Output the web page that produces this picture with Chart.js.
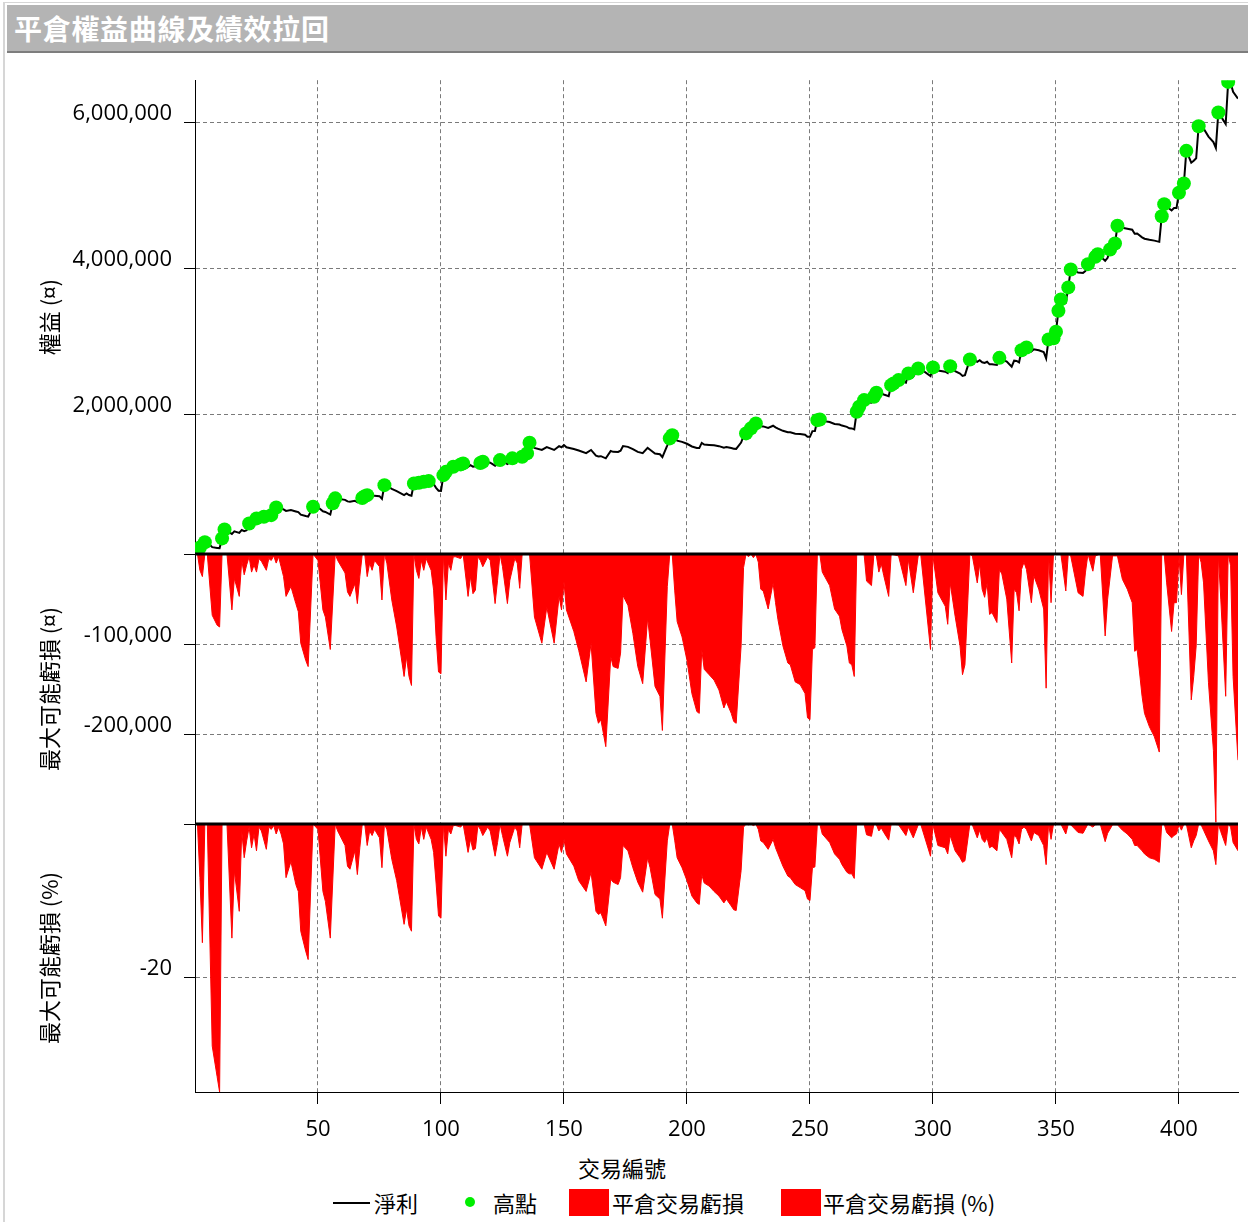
<!DOCTYPE html>
<html>
<head>
<meta charset="utf-8">
<title>平倉權益曲線及績效拉回</title>
<script src="https://cdn.jsdelivr.net/npm/chart.js@4.4.1/dist/chart.umd.min.js"></script>
<style>
  html, body { margin: 0; padding: 0; background: #fff; }
  body { width: 1248px; height: 1222px; position: relative; overflow: hidden;
         font-family: "Noto Sans CJK TC", "Open Sans", sans-serif; color: #000; }
  #frame { position: absolute; left: 3px; top: 2px; right: 0; bottom: 0;
           border-left: 2px solid #d6d6d6; border-top: 1px solid #d6d6d6; }
  #titlebar { position: absolute; left: 7px; top: 5px; width: 1241px; height: 48px;
              box-sizing: border-box; padding-left: 7px; background: #b4b4b4;
              border-bottom: 2px solid #7d7d7d; color: #fff; font-size: 28px;
              font-weight: 700; line-height: 46px; letter-spacing: 0.7px; }
  #chart { position: absolute; left: 0; top: 55px; }
  #xtitle { position: absolute; left: 0; width: 1244px; top: 1152px; text-align: center;
            font-size: 22px; line-height: 30px; }
  .lg { position: absolute; }
  .lgtext { top: 1188px; font-size: 22px; line-height: 28px; white-space: nowrap; }
</style>
</head>
<body>
<div id="frame"></div>
<div id="titlebar">平倉權益曲線及績效拉回</div>
<canvas id="chart" width="1248" height="1095"></canvas>
<div id="xtitle">交易編號</div>
<div class="lg" style="left:333px;top:1202px;width:37px;height:2px;background:#000"></div>
<div class="lg lgtext" style="left:374px">淨利</div>
<div class="lg" style="left:465px;top:1197px;width:10px;height:10px;border-radius:50%;background:#00ee00"></div>
<div class="lg lgtext" style="left:493px">高點</div>
<div class="lg" style="left:569px;top:1189px;width:40px;height:27px;background:#ff0000"></div>
<div class="lg lgtext" style="left:612px">平倉交易虧損</div>
<div class="lg" style="left:781px;top:1189px;width:40px;height:27px;background:#ff0000"></div>
<div class="lg lgtext" style="left:823px">平倉交易虧損 (%)</div>

<script>
// ================= DATA =================
// trade numbers of the equity curve vertices
const eqTrade = [
  1, 2, 3, 4, 5, 7, 9, 10, 11, 12,
  15, 16, 18, 19, 20, 21, 22, 23, 24, 25,
  26, 27, 28, 29, 30, 31, 32, 33, 34, 35,
  36, 37, 39, 41, 42, 43, 45, 46, 48, 50,
  52, 53, 55, 56, 57, 58, 61, 62, 63, 65,
  66, 67, 68, 69, 70, 71, 72, 73, 75, 76,
  77, 78, 80, 82, 85, 86, 87, 88, 89, 90,
  91, 92, 93, 94, 95, 96, 97, 98, 99, 100,
  101, 102, 103, 104, 105, 106, 108, 109, 111, 112,
  113, 114, 115, 116, 117, 119, 120, 122, 123, 124,
  125, 127, 128, 129, 130, 131, 132, 133, 134, 135,
  136, 138, 141, 143, 146, 148, 149, 150, 151, 154,
  156, 159, 161, 163, 164, 165, 167, 169, 170, 172,
  173, 174, 176, 178, 180, 182, 184, 185, 187, 189,
  190, 192, 193, 194, 195, 196, 198, 200, 202, 204,
  205, 206, 207, 209, 211, 213, 215, 216, 218, 219,
  220, 222, 223, 224, 225, 226, 227, 228, 229, 230,
  231, 233, 235, 236, 237, 239, 241, 242, 244, 246,
  248, 249, 250, 251, 252, 253, 254, 255, 258, 260,
  262, 263, 265, 266, 267, 268, 269, 270, 272, 273,
  275, 276, 277, 278, 279, 280, 282, 283, 284, 285,
  286, 289, 290, 292, 294, 295, 299, 300, 302, 305,
  306, 307, 309, 311, 312, 313, 315, 316, 318, 319,
  320, 321, 322, 323, 324, 326, 327, 328, 330, 332,
  333, 334, 335, 336, 337, 338, 340, 341, 343, 345,
  346, 347, 348, 349, 350, 351, 352, 354, 355, 356,
  357, 359, 361, 362, 363, 365, 366, 367, 370, 371,
  372, 374, 375, 377, 379, 381, 382, 383, 385, 386,
  388, 390, 392, 393, 394, 395, 397, 398, 399, 400,
  401, 402, 403, 405, 406, 407, 408, 409, 410, 412,
  414, 415, 416, 417, 419, 420, 421, 422, 424
];
// net equity at those trades
const eqValue = [
  150000, 172000, 147000, 245000, 245000, 177000, 166000, 164000, 297000, 420000,
  358000, 393000, 373000, 413000, 397000, 408000, 502000, 482000, 490000, 571000,
  566000, 563000, 594000, 576000, 589000, 616000, 610000, 721000, 718000, 707000,
  696000, 674000, 685000, 666000, 657000, 622000, 603000, 596000, 730000, 723000,
  668000, 660000, 624000, 778000, 846000, 839000, 825000, 804000, 799000, 813000,
  791000, 821000, 850000, 876000, 890000, 880000, 872000, 883000, 876000, 839000,
  1027000, 1017000, 976000, 946000, 891000, 913000, 891000, 881000, 1050000, 1032000,
  1060000, 1053000, 1073000, 1066000, 1082000, 1064000, 1042000, 990000, 951000, 949000,
  1164000, 1209000, 1199000, 1191000, 1278000, 1275000, 1311000, 1325000, 1278000, 1300000,
  1281000, 1285000, 1322000, 1330000, 1348000, 1341000, 1334000, 1293000, 1319000, 1370000,
  1356000, 1315000, 1341000, 1394000, 1389000, 1384000, 1356000, 1416000, 1440000, 1462000,
  1608000, 1538000, 1509000, 1549000, 1509000, 1561000, 1546000, 1577000, 1546000, 1522000,
  1501000, 1466000, 1509000, 1431000, 1420000, 1424000, 1394000, 1494000, 1483000, 1481000,
  1498000, 1562000, 1551000, 1520000, 1483000, 1464000, 1537000, 1512000, 1461000, 1450000,
  1412000, 1572000, 1667000, 1712000, 1672000, 1637000, 1620000, 1594000, 1557000, 1537000,
  1535000, 1606000, 1584000, 1578000, 1572000, 1561000, 1541000, 1548000, 1535000, 1526000,
  1524000, 1610000, 1697000, 1736000, 1730000, 1805000, 1800000, 1873000, 1864000, 1834000,
  1832000, 1812000, 1841000, 1819000, 1800000, 1771000, 1752000, 1750000, 1731000, 1728000,
  1718000, 1691000, 1689000, 1767000, 1769000, 1917000, 1927000, 1907000, 1892000, 1866000,
  1858000, 1843000, 1825000, 1806000, 1804000, 1791000, 2032000, 2101000, 2192000, 2162000,
  2157000, 2237000, 2293000, 2273000, 2282000, 2269000, 2246000, 2397000, 2421000, 2415000,
  2466000, 2431000, 2558000, 2515000, 2626000, 2620000, 2520000, 2640000, 2597000, 2582000,
  2562000, 2657000, 2588000, 2555000, 2523000, 2534000, 2749000, 2747000, 2717000, 2738000,
  2710000, 2701000, 2717000, 2682000, 2684000, 2673000, 2771000, 2749000, 2721000, 2650000,
  2732000, 2728000, 2708000, 2876000, 2867000, 2913000, 2859000, 2889000, 2874000, 2852000,
  2764000, 3024000, 2970000, 3038000, 3129000, 3416000, 3572000, 3531000, 3736000, 3982000,
  3980000, 3939000, 3935000, 3962000, 4055000, 4036000, 4155000, 4192000, 4101000, 4142000,
  4256000, 4338000, 4580000, 4552000, 4541000, 4526000, 4472000, 4474000, 4422000, 4403000,
  4388000, 4377000, 4360000, 4712000, 4877000, 4845000, 4791000, 4823000, 4823000, 5033000,
  4988000, 5160000, 5607000, 5445000, 5471000, 5505000, 5945000, 5936000, 5913000, 5802000,
  5727000, 5647000, 6133000, 6083000, 5975000, 6552000, 6539000, 6416000, 6323000
];

// new equity highs (green dots)
const highTrade = [
  2, 4, 11, 12, 22, 25, 28, 31, 33, 48,
  56, 57, 68, 69, 70, 77, 89, 91, 93, 95,
  101, 102, 105, 108, 109, 116, 117, 124, 129, 133,
  135, 136, 193, 194, 224, 226, 228, 253, 254, 269,
  270, 272, 276, 277, 283, 284, 286, 290, 294, 300,
  307, 315, 327, 336, 338, 347, 349, 350, 351, 352,
  355, 356, 363, 366, 367, 372, 374, 375, 393, 394,
  400, 402, 403, 408, 416, 420
];
const highValue = [
  172000, 245000, 297000, 420000, 502000, 571000, 594000, 616000, 721000, 730000,
  778000, 846000, 850000, 876000, 890000, 1027000, 1050000, 1060000, 1073000, 1082000,
  1164000, 1209000, 1278000, 1311000, 1325000, 1330000, 1348000, 1370000, 1394000, 1416000,
  1462000, 1608000, 1667000, 1712000, 1736000, 1805000, 1873000, 1917000, 1927000, 2032000,
  2101000, 2192000, 2237000, 2293000, 2397000, 2421000, 2466000, 2558000, 2626000, 2640000,
  2657000, 2749000, 2771000, 2876000, 2913000, 3024000, 3038000, 3129000, 3416000, 3572000,
  3736000, 3982000, 4055000, 4155000, 4192000, 4256000, 4338000, 4580000, 4712000, 4877000,
  5033000, 5160000, 5607000, 5945000, 6133000, 6552000
];

// closed-trade drawdown vertices: trade number, amount, percent
const ddTrade = [
  1, 2, 3, 4, 5, 7, 9, 10, 11, 13,
  15, 16, 18, 19, 20, 21, 22, 23, 24, 25,
  26, 27, 29, 30, 31, 32, 33, 34, 35, 36,
  37, 39, 41, 42, 43, 45, 46, 48, 50, 52,
  53, 55, 57, 58, 61, 62, 63, 65, 66, 67,
  68, 69, 70, 71, 72, 73, 75, 76, 77, 78,
  80, 82, 85, 86, 87, 88, 89, 90, 91, 92,
  93, 94, 96, 97, 98, 99, 100, 101, 102, 103,
  104, 105, 106, 108, 109, 111, 112, 113, 114, 115,
  116, 117, 119, 120, 122, 123, 124, 125, 127, 128,
  130, 131, 132, 133, 136, 138, 141, 143, 146, 148,
  149, 150, 151, 154, 156, 159, 161, 163, 164, 165,
  167, 169, 170, 172, 173, 174, 176, 178, 180, 182,
  184, 185, 187, 189, 190, 192, 193, 194, 195, 196,
  198, 200, 202, 204, 205, 206, 207, 209, 211, 213,
  215, 216, 218, 219, 220, 222, 223, 224, 225, 226,
  227, 228, 229, 230, 231, 233, 235, 236, 237, 239,
  241, 242, 244, 246, 248, 249, 250, 251, 252, 253,
  254, 255, 258, 260, 262, 263, 265, 266, 267, 268,
  269, 272, 273, 275, 276, 277, 278, 279, 280, 282,
  283, 286, 289, 290, 292, 294, 295, 299, 300, 302,
  305, 306, 307, 309, 311, 312, 313, 315, 316, 318,
  319, 320, 321, 322, 323, 324, 326, 327, 328, 330,
  332, 333, 334, 335, 336, 337, 338, 340, 341, 343,
  345, 346, 347, 348, 349, 352, 354, 355, 356, 359,
  361, 362, 363, 365, 366, 368, 370, 371, 373, 375,
  377, 379, 381, 382, 383, 385, 386, 388, 390, 392,
  393, 394, 395, 397, 398, 399, 400, 401, 402, 403,
  405, 406, 407, 408, 409, 410, 412, 414, 415, 416,
  417, 419, 420, 421, 422, 424
];
const ddValue = [
  0, -18000, -25000, 0, 0, -68000, -79000, -81000, 0, 0,
  -62000, -27000, -47000, -7000, -23000, -12000, -3000, -20000, -12000, -20000,
  -5000, -8000, -18000, -5000, -7000, -2000, -10000, -3000, -14000, -25000,
  -47000, -36000, -55000, -64000, -99000, -118000, -125000, 0, -7000, -62000,
  -70000, -106000, 0, -7000, -21000, -42000, -47000, -33000, -55000, -25000,
  0, 0, -25000, -10000, -18000, -7000, -14000, -51000, 0, -10000,
  -51000, -81000, -136000, -114000, -136000, -146000, 0, -18000, -27000, -7000,
  -18000, -5000, -18000, -40000, -92000, -131000, -133000, 0, -51000, -10000,
  -18000, -3000, -3000, -5000, 0, -47000, -25000, -44000, -40000, -3000,
  -7000, -14000, -3000, -7000, -55000, -29000, 0, -14000, -55000, -29000,
  -5000, -10000, -38000, 0, 0, -70000, -99000, -59000, -99000, -47000,
  -62000, -31000, -62000, -86000, -107000, -142000, -99000, -177000, -188000, -184000,
  -214000, -114000, -125000, -127000, -110000, -46000, -57000, -88000, -125000, -144000,
  -71000, -96000, -147000, -158000, -196000, -36000, 0, 0, -40000, -75000,
  -92000, -118000, -155000, -175000, -177000, -106000, -128000, -134000, -140000, -151000,
  -171000, -164000, -177000, -186000, -188000, -102000, -15000, 0, -3000, 0,
  -4000, 0, -9000, -39000, -41000, -61000, -32000, -54000, -73000, -102000,
  -121000, -123000, -142000, -145000, -155000, -182000, -184000, -106000, -104000, 0,
  0, -20000, -35000, -61000, -69000, -84000, -102000, -121000, -123000, -136000,
  0, 0, -30000, -35000, 0, -2000, -20000, -11000, -24000, -47000,
  0, -2000, -35000, -6000, -43000, -2000, 0, -106000, -2000, -43000,
  -58000, -78000, -32000, -69000, -102000, -134000, -123000, 0, -2000, -32000,
  -11000, -39000, -48000, -32000, -67000, -65000, -76000, -17000, -22000, -50000,
  -121000, -39000, -43000, -63000, -17000, -9000, -17000, -54000, -24000, -39000,
  -61000, -149000, 0, -54000, 0, 0, -41000, 0, -2000, -43000,
  -47000, -20000, 0, -19000, -2000, 0, -91000, -50000, -2000, -2000,
  -28000, -39000, -54000, -108000, -106000, -158000, -177000, -192000, -203000, -220000,
  0, 0, -32000, -86000, -54000, -54000, -2000, -45000, 0, 0,
  -162000, -136000, -102000, 0, -9000, -32000, -143000, -218000, -298000, 0,
  -50000, -158000, 0, -13000, -136000, -229000
];
const ddPct = [
  0, -7, -15.5, 0, 0, -29, -33, -35, 0, 0,
  -14.9, -6.1, -11.4, -0.9, -4.4, -2.2, -0.4, -3.1, -1.3, -3.5,
  -0.4, -0.9, -3.3, -0.4, -0.7, -0.2, -1.3, -0.4, -1.3, -2.6,
  -7.0, -4.9, -7.9, -8.8, -14.0, -16.6, -17.7, 0, -0.7, -8.8,
  -10.1, -14.9, 0, -0.9, -2.8, -5.5, -5.9, -3.5, -6.6, -3.1,
  0, 0, -2.8, -0.9, -1.5, -0.7, -1.8, -5.7, 0, -0.7,
  -4.6, -7.4, -13.1, -11.1, -13.3, -14.0, 0, -2.0, -2.6, -0.4,
  -2.0, -0.4, -2.0, -3.7, -7.7, -12.0, -12.3, 0, -4.2, -0.7,
  -1.3, -0.2, -0.2, -0.4, 0, -3.7, -2.0, -3.4, -3.2, -0.2,
  -0.7, -1.5, -0.4, -0.9, -4.2, -2.4, 0, -1.5, -4.2, -2.4,
  -0.4, -0.9, -3.1, 0, 0, -4.4, -5.9, -3.7, -5.9, -2.6,
  -3.7, -2.0, -3.9, -5.5, -7.4, -8.8, -6.3, -11.4, -11.8, -11.6,
  -13.3, -7.2, -7.6, -7.9, -7.0, -2.8, -3.5, -5.7, -7.6, -8.9,
  -4.4, -5.7, -9.2, -9.8, -12.3, -2.2, 0, 0, -2.1, -4.4,
  -5.7, -7.4, -9.4, -10.3, -10.5, -6.6, -7.7, -8.1, -8.8, -9.4,
  -10.3, -9.8, -10.7, -11.2, -11.3, -6.1, -0.4, 0, -0.1, 0,
  -0.2, 0, -0.7, -2.2, -2.4, -3.3, -2.0, -3.1, -3.9, -5.5,
  -6.8, -7.0, -7.9, -8.3, -8.7, -9.8, -10.0, -5.7, -5.6, 0,
  0, -1.3, -2.4, -3.9, -4.6, -5.3, -6.3, -6.5, -6.5, -7.1,
  0, 0, -1.4, -1.6, 0, -0.1, -0.9, -0.5, -1.1, -2.1,
  0, -0.1, -1.5, -0.4, -1.8, -0.1, 0, -4.2, -0.1, -2.8,
  -3.1, -3.9, -1.5, -3.5, -4.4, -5.0, -4.8, 0, -0.1, -1.8,
  -0.8, -2.0, -2.4, -1.8, -3.1, -2.9, -3.5, -0.7, -1.1, -2.0,
  -4.4, -1.5, -1.8, -2.6, -0.7, -0.4, -0.7, -2.2, -1.1, -1.5,
  -2.8, -5.3, 0, -2.0, 0, 0, -1.3, 0, -0.1, -1.1,
  -1.2, -0.6, 0, -0.4, -0.1, 0, -2.3, -1.2, -0.1, -0.1,
  -0.8, -1.3, -2.0, -2.8, -2.8, -3.5, -3.9, -4.4, -4.6, -5.0,
  0, 0, -1.1, -1.8, -1.5, -1.3, -0.1, -0.8, 0, 0,
  -3.1, -2.2, -1.5, 0, -0.1, -0.8, -2.2, -3.5, -5.3, 0,
  -1.0, -2.8, 0, -0.4, -2.4, -3.5
];

// axis ranges and tick labels
const tradeRange = [0, 424];
const xTicks = [50, 100, 150, 200, 250, 300, 350, 400];
const eqRange = [82000, 6575000];
const eqTicks = [2000000, 4000000, 6000000];
const ddRange = [-300000, 0];
const ddTicks = [-300000, -200000, -100000, 0];
const pctRange = [-35, 0];
const pctTicks = [-20, 0];

// ================= STYLE =================
const FONT_NUM = '"Open Sans", "Noto Sans CJK TC", sans-serif';
const FONT_CJK = '"Noto Sans CJK TC", "Open Sans", sans-serif';
const GRID = "#7a7a7a";

function toPoints(xs, ys) {
  return xs.map((x, i) => ({ x: x, y: ys[i] }));
}

function panelAxis(weight, range, tickValues, title) {
  const [min, max] = range;
  return {
    type: "linear",
    position: "left",
    stack: "panels",
    stackWeight: weight,
    min: min,
    max: max,
    afterBuildTicks: (s) => { s.ticks = tickValues.map((v) => ({ value: v })); },
    afterFit: (s) => { s.width = 195; },
    ticks: {
      color: "#000",
      padding: 12,
      labelOffset: -8,
      font: { family: FONT_NUM, size: 22 },
      callback: (v) => (v === min || v === max ? "" : v.toLocaleString("en-US")),
    },
    grid: {
      color: (c) => (c.tick && (c.tick.value === min || c.tick.value === max) ? "rgba(0,0,0,0)" : GRID),
      tickColor: "#000",
      tickLength: 11,
      lineWidth: 1,
    },
    border: { color: "#000", width: 1, dash: [4, 3] },
    title: {
      display: true,
      text: title,
      color: "#000",
      font: { family: FONT_CJK, size: 22 },
      padding: { top: 36, bottom: 0 },
    },
  };
}

// thick black zero lines of the two drawdown panels
const zeroLines = {
  id: "zeroLines",
  afterDatasetsDraw(chart) {
    const { ctx, chartArea } = chart;
    ctx.save();
    ctx.strokeStyle = "#000";
    ctx.lineWidth = 3;
    ["yDd", "yPct"].forEach((id) => {
      const y = chart.scales[id].getPixelForValue(0);
      ctx.beginPath();
      ctx.moveTo(chartArea.left, y);
      ctx.lineTo(chartArea.right, y);
      ctx.stroke();
    });
    ctx.restore();
  },
};

// ================= CHART =================
new Chart(document.getElementById("chart"), {
  type: "line",
  data: {
    datasets: [
      {
        label: "高點",
        data: toPoints(highTrade, highValue),
        yAxisID: "yEq",
        showLine: false,
        pointRadius: 7,
        pointBackgroundColor: "#00ee00",
        pointBorderColor: "#00ee00",
        pointBorderWidth: 0,
        order: 0,
      },
      {
        label: "淨利",
        data: toPoints(eqTrade, eqValue),
        yAxisID: "yEq",
        borderColor: "#000",
        borderWidth: 2,
        pointRadius: 0,
        tension: 0,
        order: 1,
      },
      {
        label: "平倉交易虧損",
        data: toPoints(ddTrade, ddValue),
        yAxisID: "yDd",
        borderColor: "#ff0000",
        backgroundColor: "#ff0000",
        borderWidth: 1,
        pointRadius: 0,
        fill: "origin",
        order: 2,
      },
      {
        label: "平倉交易虧損 (%)",
        data: toPoints(ddTrade, ddPct),
        yAxisID: "yPct",
        borderColor: "#ff0000",
        backgroundColor: "#ff0000",
        borderWidth: 1,
        pointRadius: 0,
        fill: "origin",
        order: 3,
      },
    ],
  },
  options: {
    responsive: false,
    animation: false,
    layout: { padding: { top: 25, right: 10, bottom: 0, left: 0 } },
    plugins: {
      legend: { display: false },
      tooltip: { enabled: false },
    },
    scales: {
      x: {
        type: "linear",
        min: tradeRange[0],
        max: tradeRange[1],
        afterBuildTicks: (s) => { s.ticks = xTicks.map((v) => ({ value: v })); },
        afterFit: (s) => { s.height = 58; },
        ticks: { color: "#000", padding: 13, maxRotation: 0, font: { family: FONT_NUM, size: 22 } },
        grid: { color: GRID, tickColor: "#000", tickLength: 12, lineWidth: 1 },
        border: { color: "#000", width: 1, dash: [4, 3] },
      },
      yPct: panelAxis(268, pctRange, pctTicks, "最大可能虧損 (%)"),
      yDd: panelAxis(270, ddRange, ddTicks, "最大可能虧損 (¤)"),
      yEq: panelAxis(474, eqRange, eqTicks, "權益 (¤)"),
    },
  },
  plugins: [zeroLines],
});
</script>
</body>
</html>
